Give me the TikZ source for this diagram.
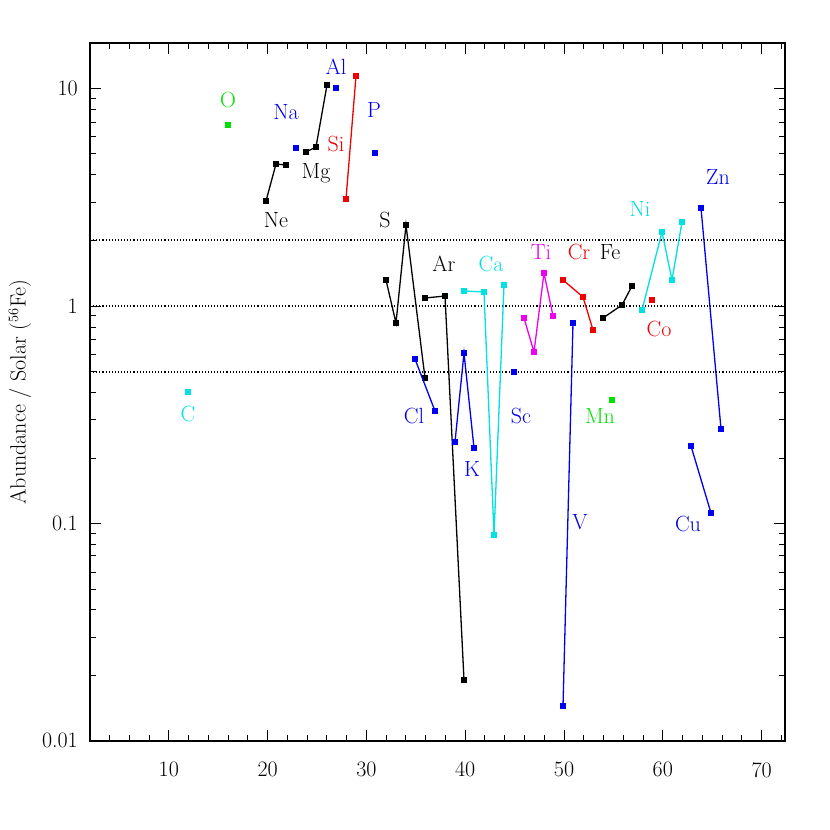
\documentclass[tikz,border=0pt]{standalone}
\usepackage{xcolor}
\definecolor{cy}{RGB}{0,225,225}
\definecolor{gr}{RGB}{0,225,0}
\definecolor{bl}{RGB}{0,0,240}
\definecolor{rd}{RGB}{240,0,0}
\definecolor{mg}{RGB}{240,0,240}
\newcommand\myser[3]{%
  \draw[line width=1.3pt,#1] plot coordinates {#2};
  \foreach \p in {#3}{\node[mk,#1] at \p {};}}
\begin{document}
\begin{tikzpicture}[x=1pt,y=-1pt,
  mk/.style={draw,fill=white,line width=1.1pt,minimum size=5.5pt,inner sep=0pt,rectangle},
  lab/.style={font=\fontsize{22}{22}\selectfont,inner sep=0pt}]
\useasboundingbox (0,0) rectangle (830,830);
\fill[white] (0,0) rectangle (830,830);
% frame
\draw[line width=1.6pt] (90,43) rectangle (785,741);
% x ticks
\foreach \i in {4,6,...,72}{
  \pgfmathsetmacro\px{70+9.88*\i}
  \draw[line width=1pt] (\px,741) -- (\px,735);
  \draw[line width=1pt] (\px,43) -- (\px,49);}
\foreach \i in {10,20,...,70}{
  \pgfmathsetmacro\px{70+9.88*\i}
  \draw[line width=1pt] (\px,741) -- (\px,730);
  \draw[line width=1pt] (\px,43) -- (\px,54);
  \node[lab,anchor=north] at (\px,762) {\i};}
% y ticks
\foreach \d in {0.01,0.1,1}{
  \foreach \m in {2,...,9}{
    \pgfmathsetmacro\py{306-94.55*ln(\d*\m)}
    \draw[line width=1pt] (90,\py) -- (96,\py);
    \draw[line width=1pt] (785,\py) -- (779,\py);}}
\foreach \v/\t in {0.01/0.01,0.1/0.1,1/1,10/10}{
  \pgfmathsetmacro\py{306-94.55*ln(\v)}
  \draw[line width=1pt] (90,\py) -- (101,\py);
  \draw[line width=1pt] (785,\py) -- (774,\py);
  \node[lab,anchor=east] at (78,\py) {\t};}
\node[lab,rotate=90] at (20,392) {Abundance / Solar ($^{56}$Fe)};
% dotted lines
\foreach \py in {240,306,372}
  \draw[line width=1.1pt,dotted] (90,\py) -- (785,\py);
% data
\myser{black}{(266,201) (276,164) (286,165)}{(266,201),(276,164),(286,165)}
\myser{black}{(306,152) (316,147) (327,85)}{(306,152),(316,147),(327,85)}
\myser{rd}{(346,199) (356,76)}{(346,199),(356,76)}
\myser{black}{(386,280) (396,323) (406,225) (425,378)}{(386,280),(396,323),(406,225),(425,378)}
\myser{black}{(425,298) (445,296) (464,680)}{(425,298),(445,296),(464,680)}
\myser{bl}{(415,359) (435,411)}{(415,359),(435,411)}
\myser{bl}{(455,442) (464,353) (474,448)}{(455,442),(464,353),(474,448)}
\myser{cy}{(464,291) (484,292) (494,535) (504,285)}{(464,291),(484,292),(494,535),(504,285)}
\myser{mg}{(524,318) (534,352) (544,273) (553,316)}{(524,318),(534,352),(544,273),(553,316)}
\myser{bl}{(563,706) (573,323)}{(563,706),(573,323)}
\myser{rd}{(563,280) (583,297) (593,330)}{(563,280),(583,297),(593,330)}
\myser{black}{(603,318) (622,305) (632,286)}{(603,318),(622,305),(632,286)}
\myser{cy}{(642,310) (662,232) (672,280) (682,222)}{(642,310),(662,232),(672,280),(682,222)}
\myser{bl}{(691,446) (711,513)}{(691,446),(711,513)}
\myser{bl}{(701,208) (721,429)}{(701,208),(721,429)}
\node[mk,gr] at (228,125) {};
\node[mk,cy] at (188,392) {};
\node[mk,bl] at (296,148) {};
\node[mk,bl] at (336,88) {};
\node[mk,bl] at (375,153) {};
\node[mk,bl] at (514,372) {};
\node[mk,gr] at (612,400) {};
\node[mk,rd] at (652,300) {};
% labels
\node[lab,gr] at (228,100) {O};
\node[lab,cy] at (188,414) {C};
\node[lab,bl] at (286,112) {Na};
\node[lab,bl] at (336,67) {Al};
\node[lab,bl] at (374,110) {P};
\node[lab,rd] at (336,144) {Si};
\node[lab] at (316,173) {Mg};
\node[lab] at (276,220) {Ne};
\node[lab] at (385,220) {S};
\node[lab] at (444,264) {Ar};
\node[lab,cy] at (491,264) {Ca};
\node[lab,mg] at (541,252) {Ti};
\node[lab,rd] at (579,252) {Cr};
\node[lab] at (610,252) {Fe};
\node[lab,cy] at (640,209) {Ni};
\node[lab,bl] at (718,177) {Zn};
\node[lab,rd] at (659,329) {Co};
\node[lab,bl] at (414,416) {Cl};
\node[lab,bl] at (472,469) {K};
\node[lab,bl] at (521,416) {Sc};
\node[lab,gr] at (600,416) {Mn};
\node[lab,bl] at (580,522) {V};
\node[lab,bl] at (688,524) {Cu};
\end{tikzpicture}
\end{document}
